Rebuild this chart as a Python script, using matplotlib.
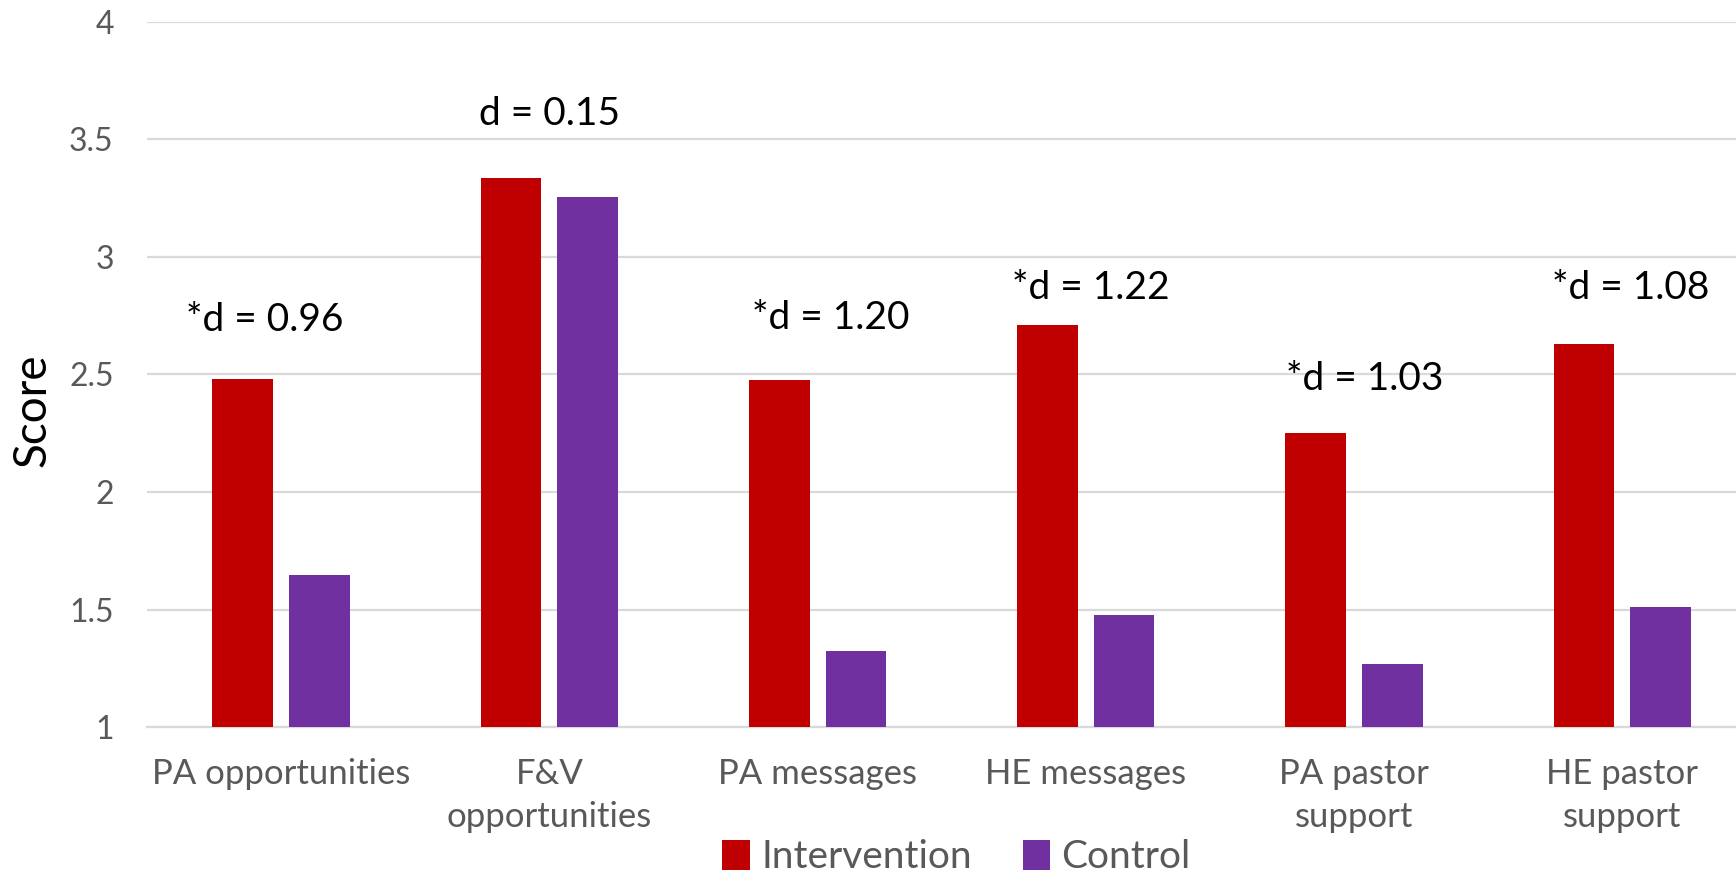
import matplotlib
matplotlib.use('Agg')
import matplotlib.pyplot as plt
import numpy as np

# Chart data
CATEGORIES = ['PA opportunities', 'F&V\nopportunities', 'PA messages', 'HE messages',
              'PA pastor\nsupport', 'HE pastor\nsupport']
INTERVENTION = [2.48, 3.335, 2.475, 2.71, 2.25, 2.63]
CONTROL = [1.645, 3.255, 1.325, 1.475, 1.27, 1.51]
EFFECT_LABELS = ['*d = 0.96', 'd = 0.15', '*d = 1.20', '*d = 1.22', '*d = 1.03', '*d = 1.08']
EFFECT_X = [-0.06, 1.0, 2.05, 3.02, 4.04, 5.03]
EFFECT_Y = [2.73, 3.61, 2.74, 2.87, 2.48, 2.87]
Y_TICKS = [1, 1.5, 2, 2.5, 3, 3.5, 4]
Y_TICK_LABELS = ['1', '1.5', '2', '2.5', '3', '3.5', '4']

RED = '#C00000'
PURPLE = '#7030A0'
GRID = '#D9D9D9'
GRAY_TEXT = '#595959'

plt.rcParams['font.family'] = ['Lato', 'DejaVu Sans']

fig = plt.figure(figsize=(17.36, 8.75), dpi=100)
ax = fig.add_axes([0.0847, 0.169, 0.927, 0.806])

x = np.arange(len(CATEGORIES))
width = 0.226
offset = 0.143
ax.bar(x - offset, np.array(INTERVENTION) - 1, width, bottom=1, color=RED, label='Intervention', zorder=3)
ax.bar(x + offset, np.array(CONTROL) - 1, width, bottom=1, color=PURPLE, label='Control', zorder=3)

for tx, ty, lab in zip(EFFECT_X, EFFECT_Y, EFFECT_LABELS):
    ax.text(tx, ty, lab, ha='center', va='center', fontsize=28, color='black')

ax.set_xlim(-0.5, len(CATEGORIES) - 0.5)
ax.set_ylim(1, 4)
ax.set_yticks(Y_TICKS)
ax.set_yticklabels(Y_TICK_LABELS)
ax.set_xticks(x)
ax.set_xticklabels(CATEGORIES, linespacing=1.45)
ax.tick_params(axis='y', length=0, pad=24, labelsize=23, labelcolor=GRAY_TEXT)
ax.tick_params(axis='x', length=0, pad=22, labelsize=25, labelcolor=GRAY_TEXT)
ax.grid(axis='y', color=GRID, linewidth=1.6, zorder=0)
for side in ['top', 'right', 'left']:
    ax.spines[side].set_visible(False)
ax.spines['bottom'].set_color(GRID)
ax.spines['bottom'].set_linewidth(1.6)

ax.set_ylabel('Score', fontsize=33, color='black')
ax.yaxis.set_label_coords(-0.058, 0.45)

fig.legend(loc='center', bbox_to_anchor=(0.551, 0.020), ncol=2, frameon=False,
           fontsize=28, handlelength=0.7, handleheight=0.8, handletextpad=0.3,
           columnspacing=1.3, labelcolor=GRAY_TEXT)

fig.savefig('out.png', dpi=100)
